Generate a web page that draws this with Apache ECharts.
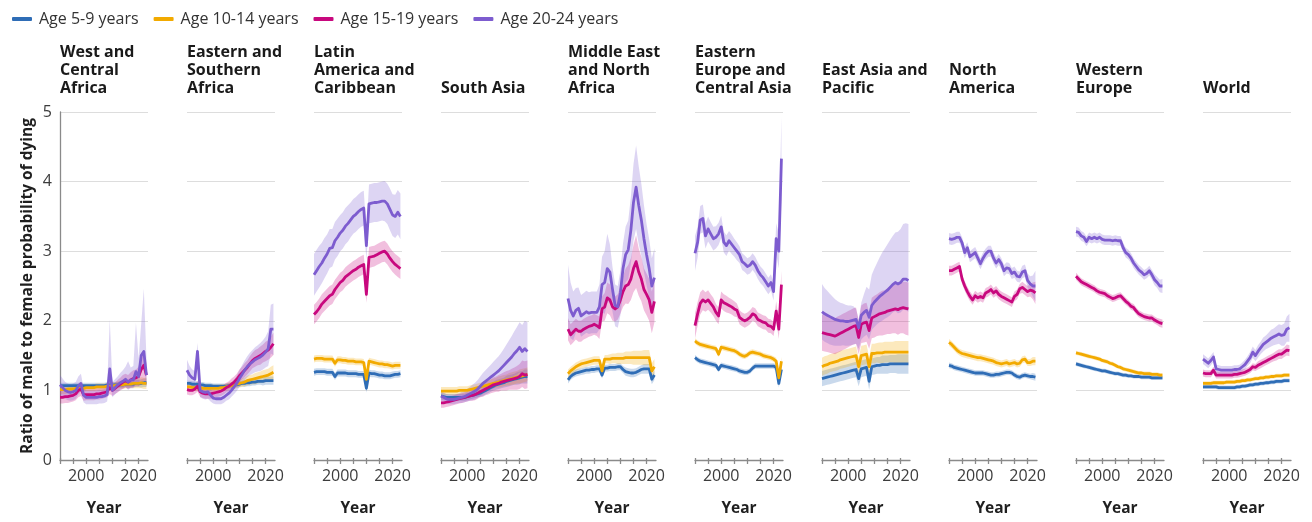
<!DOCTYPE html>
<html>
<head>
<meta charset="utf-8">
<script src="https://cdn.jsdelivr.net/npm/echarts@6/dist/echarts.min.js"></script>
<style>
  html, body { margin: 0; padding: 0; background: #ffffff; }
  #chart { width: 1312px; height: 522px; }
</style>
</head>
<body>
<div id="chart"></div>
<script>
// ---- Shared axes / labels ----
const years = [1990,1991,1992,1993,1994,1995,1996,1997,1998,1999,2000,2001,2002,2003,2004,2005,2006,2007,2008,2009,2010,2011,2012,2013,2014,2015,2016,2017,2018,2019,2020,2021,2022,2023];
const yearTicks = [1990, 1995, 2000, 2005, 2010, 2015, 2020];
const yearLabels = [2000, 2020];
const ageGroups = ['Age 5-9 years', 'Age 10-14 years', 'Age 15-19 years', 'Age 20-24 years'];
const regionTitles = ['West and\nCentral\nAfrica', 'Eastern and\nSouthern\nAfrica', 'Latin\nAmerica and\nCaribbean', 'South Asia', 'Middle East\nand North\nAfrica', 'Eastern\nEurope and\nCentral Asia', 'East Asia and\nPacific', 'North\nAmerica', 'Western\nEurope', 'World'];

// ---- West and Central Africa ----
const wca5 = [1.07,1.07,1.07,1.07,1.07,1.07,1.07,1.07,1.07,1.07,1.07,1.07,1.07,1.07,1.07,1.07,1.07,1.07,1.08,1.08,1.08,1.08,1.08,1.08,1.08,1.09,1.09,1.09,1.09,1.10,1.10,1.10,1.11,1.11];
const wca10 = [1.01,1.01,1.01,1.02,1.02,1.02,1.03,1.03,1.03,1.03,1.04,1.04,1.04,1.04,1.05,1.05,1.05,1.05,1.06,1.06,1.07,1.07,1.08,1.08,1.08,1.09,1.09,1.09,1.10,1.10,1.10,1.11,1.10,1.10];
const wca15 = [0.90,0.90,0.91,0.91,0.92,0.93,0.95,1.00,1.02,0.94,0.94,0.94,0.94,0.94,0.95,0.95,0.96,0.97,0.98,1.04,1.00,1.03,1.06,1.09,1.12,1.14,1.12,1.15,1.17,1.18,1.20,1.30,1.36,1.22];
const wca20 = [1.08,1.04,1.00,0.98,0.97,0.98,1.00,1.06,1.10,0.93,0.90,0.90,0.90,0.90,0.90,0.91,0.91,0.92,0.94,1.31,1.00,1.04,1.08,1.11,1.13,1.16,1.12,1.15,1.15,1.27,1.20,1.50,1.56,1.22];
const wca5Ci = [0.04,0.04,0.04,0.04,0.04,0.04,0.04,0.04,0.04,0.04,0.04,0.04,0.04,0.04,0.04,0.04,0.04,0.04,0.04,0.04,0.04,0.04,0.04,0.04,0.04,0.04,0.05,0.05,0.05,0.05,0.05,0.06,0.06,0.06];
const wca10Ci = [0.06,0.06,0.06,0.06,0.06,0.05,0.05,0.05,0.05,0.05,0.05,0.05,0.05,0.05,0.05,0.05,0.05,0.05,0.05,0.05,0.05,0.05,0.05,0.05,0.06,0.06,0.06,0.06,0.07,0.07,0.07,0.08,0.08,0.08];
const wca15Ci = [0.09,0.09,0.09,0.09,0.09,0.09,0.09,0.10,0.10,0.09,0.08,0.08,0.08,0.08,0.08,0.08,0.08,0.08,0.08,0.09,0.08,0.08,0.09,0.09,0.10,0.10,0.10,0.11,0.12,0.12,0.14,0.22,0.22,0.16];
const wca20Dn = [0.14,0.13,0.12,0.12,0.12,0.12,0.12,0.12,0.12,0.10,0.10,0.10,0.10,0.10,0.10,0.10,0.10,0.10,0.10,0.14,0.10,0.10,0.10,0.10,0.10,0.11,0.11,0.12,0.12,0.14,0.14,0.18,0.20,0.16];
const wca20Up = [0.14,0.13,0.12,0.12,0.12,0.12,0.12,0.14,0.14,0.10,0.10,0.10,0.10,0.10,0.10,0.10,0.10,0.10,0.12,0.71,0.12,0.12,0.12,0.14,0.16,0.18,0.30,0.18,0.20,0.70,0.26,0.45,0.90,0.26];

// ---- Eastern and Southern Africa ----
const esa5 = [1.10,1.10,1.09,1.09,1.09,1.08,1.08,1.07,1.07,1.07,1.06,1.06,1.06,1.06,1.06,1.06,1.07,1.07,1.08,1.08,1.09,1.10,1.10,1.11,1.11,1.12,1.12,1.13,1.13,1.13,1.14,1.14,1.14,1.14];
const esa10 = [1.05,1.05,1.04,1.04,1.04,1.04,1.03,1.03,1.03,1.03,1.03,1.03,1.03,1.04,1.04,1.05,1.06,1.07,1.08,1.09,1.10,1.11,1.12,1.14,1.15,1.16,1.17,1.18,1.19,1.20,1.21,1.22,1.24,1.26];
const esa15 = [1.01,1.00,1.00,1.02,1.06,0.98,0.96,0.95,0.95,0.95,0.96,0.97,0.98,0.99,1.01,1.04,1.06,1.09,1.12,1.16,1.21,1.25,1.29,1.33,1.38,1.43,1.46,1.48,1.50,1.53,1.56,1.58,1.62,1.67];
const esa20 = [1.29,1.22,1.18,1.16,1.56,1.00,0.98,0.97,0.98,0.93,0.89,0.88,0.88,0.88,0.90,0.93,0.96,1.00,1.05,1.10,1.17,1.23,1.29,1.34,1.38,1.41,1.44,1.46,1.48,1.51,1.55,1.60,1.88,1.88];
const esa5Ci = [0.04,0.04,0.04,0.04,0.04,0.04,0.04,0.04,0.04,0.04,0.04,0.04,0.04,0.04,0.04,0.04,0.04,0.04,0.04,0.04,0.04,0.04,0.05,0.05,0.05,0.05,0.05,0.05,0.05,0.06,0.06,0.06,0.06,0.06];
const esa10Ci = [0.05,0.05,0.05,0.05,0.05,0.05,0.05,0.05,0.05,0.05,0.05,0.05,0.05,0.05,0.05,0.05,0.05,0.05,0.06,0.06,0.06,0.06,0.06,0.07,0.07,0.07,0.08,0.08,0.08,0.09,0.09,0.09,0.10,0.10];
const esa15Ci = [0.07,0.07,0.07,0.07,0.08,0.07,0.07,0.07,0.07,0.07,0.07,0.07,0.07,0.07,0.07,0.07,0.07,0.08,0.08,0.08,0.09,0.09,0.10,0.10,0.11,0.11,0.12,0.12,0.13,0.13,0.14,0.14,0.15,0.16];
const esa20Ci = [0.15,0.13,0.12,0.12,0.12,0.10,0.10,0.10,0.10,0.09,0.08,0.08,0.08,0.08,0.08,0.08,0.09,0.09,0.10,0.11,0.12,0.13,0.14,0.15,0.16,0.17,0.18,0.19,0.20,0.21,0.22,0.25,0.35,0.37];

// ---- Latin America and Caribbean ----
const lac5 = [1.26,1.27,1.27,1.27,1.27,1.26,1.26,1.26,1.20,1.25,1.25,1.25,1.25,1.24,1.24,1.24,1.24,1.23,1.23,1.23,1.03,1.25,1.24,1.24,1.23,1.22,1.22,1.21,1.21,1.21,1.22,1.23,1.23,1.24];
const lac10 = [1.45,1.46,1.46,1.46,1.45,1.45,1.45,1.45,1.39,1.44,1.44,1.43,1.43,1.42,1.42,1.42,1.41,1.41,1.41,1.40,1.16,1.42,1.41,1.40,1.39,1.38,1.38,1.37,1.37,1.36,1.35,1.36,1.36,1.36];
const lac15 = [2.09,2.13,2.18,2.24,2.28,2.32,2.36,2.38,2.45,2.50,2.55,2.58,2.63,2.66,2.69,2.72,2.74,2.77,2.79,2.81,2.38,2.91,2.92,2.93,2.95,2.97,2.99,3.00,2.96,2.90,2.85,2.81,2.78,2.75];
const lac20 = [2.66,2.72,2.78,2.83,2.90,2.96,3.04,3.05,3.15,3.20,3.26,3.30,3.36,3.40,3.45,3.50,3.53,3.57,3.60,3.62,3.08,3.68,3.69,3.70,3.70,3.71,3.72,3.72,3.68,3.60,3.52,3.50,3.56,3.50];
const lac5Ci = [0.05,0.05,0.05,0.05,0.05,0.05,0.05,0.05,0.05,0.05,0.05,0.05,0.05,0.05,0.05,0.05,0.05,0.05,0.05,0.05,0.06,0.05,0.05,0.05,0.05,0.05,0.05,0.05,0.05,0.05,0.05,0.05,0.05,0.05];
const lac10Ci = [0.05,0.05,0.05,0.05,0.05,0.05,0.05,0.05,0.05,0.05,0.05,0.05,0.05,0.05,0.05,0.05,0.05,0.05,0.05,0.05,0.06,0.05,0.05,0.05,0.05,0.05,0.05,0.05,0.05,0.05,0.05,0.05,0.05,0.05];
const lac15Ci = [0.14,0.14,0.14,0.14,0.14,0.14,0.14,0.14,0.14,0.14,0.14,0.14,0.14,0.14,0.14,0.14,0.14,0.14,0.14,0.14,0.12,0.15,0.15,0.15,0.15,0.15,0.15,0.15,0.15,0.15,0.15,0.15,0.15,0.15];
const lac20Ci = [0.30,0.30,0.30,0.29,0.29,0.28,0.28,0.27,0.27,0.27,0.26,0.26,0.26,0.26,0.25,0.25,0.25,0.25,0.25,0.25,0.20,0.28,0.28,0.28,0.28,0.28,0.28,0.29,0.29,0.30,0.30,0.31,0.32,0.33];

// ---- South Asia ----
const sa5 = [0.92,0.91,0.90,0.90,0.90,0.90,0.90,0.90,0.90,0.90,0.91,0.92,0.93,0.94,0.95,0.96,0.98,1.00,1.02,1.04,1.06,1.08,1.09,1.10,1.11,1.13,1.14,1.15,1.16,1.17,1.18,1.19,1.20,1.20];
const sa10 = [0.99,0.99,0.99,0.99,0.99,0.99,0.99,1.00,1.00,1.00,1.00,1.01,1.02,1.03,1.04,1.05,1.06,1.07,1.08,1.09,1.10,1.11,1.12,1.13,1.14,1.15,1.16,1.17,1.18,1.19,1.20,1.21,1.22,1.23];
const sa15 = [0.82,0.82,0.83,0.84,0.85,0.86,0.87,0.88,0.89,0.90,0.91,0.92,0.93,0.94,0.96,0.98,1.00,1.02,1.04,1.06,1.08,1.09,1.10,1.12,1.13,1.14,1.15,1.16,1.17,1.18,1.20,1.24,1.22,1.23];
const sa20 = [0.92,0.90,0.88,0.87,0.87,0.87,0.88,0.89,0.90,0.91,0.93,0.95,0.97,0.99,1.02,1.06,1.10,1.13,1.16,1.19,1.22,1.25,1.28,1.32,1.36,1.40,1.44,1.48,1.53,1.57,1.62,1.56,1.60,1.56];
const sa5Ci = [0.05,0.05,0.05,0.05,0.05,0.05,0.05,0.05,0.05,0.05,0.05,0.05,0.05,0.05,0.05,0.05,0.06,0.06,0.06,0.06,0.06,0.07,0.07,0.07,0.07,0.08,0.08,0.08,0.08,0.09,0.09,0.09,0.10,0.10];
const sa10Ci = [0.06,0.06,0.06,0.06,0.06,0.06,0.06,0.06,0.06,0.06,0.06,0.06,0.06,0.06,0.06,0.06,0.06,0.07,0.07,0.07,0.07,0.07,0.08,0.08,0.08,0.08,0.09,0.09,0.09,0.09,0.10,0.10,0.10,0.10];
const sa15Ci = [0.07,0.07,0.07,0.07,0.07,0.07,0.07,0.07,0.07,0.07,0.07,0.07,0.08,0.08,0.08,0.08,0.09,0.09,0.10,0.10,0.11,0.11,0.12,0.12,0.13,0.14,0.14,0.15,0.16,0.17,0.18,0.19,0.20,0.20];
const sa20Ci = [0.07,0.07,0.07,0.07,0.07,0.07,0.07,0.07,0.08,0.08,0.09,0.10,0.11,0.12,0.13,0.14,0.15,0.16,0.17,0.18,0.19,0.20,0.21,0.22,0.24,0.26,0.28,0.30,0.32,0.34,0.36,0.38,0.40,0.42];

// ---- Middle East and North Africa ----
const mena5 = [1.15,1.20,1.23,1.25,1.26,1.27,1.28,1.29,1.29,1.30,1.30,1.31,1.31,1.22,1.32,1.32,1.33,1.33,1.33,1.34,1.34,1.30,1.27,1.26,1.25,1.25,1.26,1.28,1.30,1.31,1.31,1.31,1.16,1.22];
const mena10 = [1.24,1.28,1.31,1.34,1.36,1.38,1.39,1.40,1.41,1.42,1.43,1.43,1.43,1.28,1.45,1.45,1.45,1.46,1.46,1.46,1.46,1.46,1.47,1.47,1.47,1.47,1.47,1.47,1.47,1.47,1.47,1.47,1.28,1.34];
const mena15 = [1.88,1.80,1.84,1.88,1.85,1.85,1.88,1.90,1.92,1.93,1.95,1.93,1.90,2.17,2.20,2.33,2.30,2.20,2.17,2.20,2.30,2.42,2.50,2.52,2.60,2.75,2.85,2.70,2.60,2.45,2.38,2.30,2.12,2.28];
const mena20 = [2.32,2.15,2.07,2.15,2.18,2.07,2.10,2.13,2.11,2.12,2.12,2.12,2.20,2.52,2.55,2.75,2.70,2.45,2.22,2.20,2.40,2.75,2.95,3.02,3.30,3.70,3.92,3.66,3.45,3.18,2.95,2.75,2.50,2.62];
const mena5Ci = [0.05,0.05,0.05,0.05,0.05,0.05,0.05,0.05,0.05,0.05,0.05,0.05,0.05,0.05,0.05,0.05,0.05,0.05,0.05,0.05,0.05,0.05,0.06,0.06,0.06,0.06,0.06,0.06,0.06,0.07,0.07,0.07,0.07,0.07];
const mena10Ci = [0.06,0.06,0.06,0.06,0.06,0.06,0.06,0.06,0.06,0.06,0.06,0.06,0.06,0.06,0.06,0.06,0.07,0.07,0.07,0.08,0.08,0.08,0.09,0.09,0.09,0.10,0.10,0.10,0.10,0.11,0.11,0.11,0.11,0.11];
const mena15Ci = [0.16,0.15,0.15,0.15,0.15,0.15,0.15,0.15,0.15,0.15,0.15,0.15,0.16,0.18,0.20,0.22,0.22,0.20,0.18,0.18,0.20,0.22,0.25,0.28,0.30,0.34,0.38,0.34,0.32,0.30,0.30,0.30,0.30,0.30];
const mena20Ci = [0.48,0.40,0.35,0.32,0.30,0.30,0.30,0.30,0.30,0.30,0.30,0.30,0.32,0.40,0.45,0.50,0.40,0.32,0.30,0.30,0.32,0.36,0.40,0.42,0.48,0.55,0.60,0.56,0.52,0.48,0.44,0.42,0.40,0.42];

// ---- Eastern Europe and Central Asia ----
const eeca5 = [1.47,1.44,1.42,1.41,1.40,1.39,1.38,1.37,1.36,1.30,1.36,1.35,1.34,1.33,1.32,1.31,1.30,1.28,1.27,1.26,1.26,1.28,1.32,1.35,1.35,1.35,1.35,1.35,1.35,1.35,1.35,1.33,1.10,1.30];
const eeca10 = [1.71,1.68,1.66,1.65,1.64,1.63,1.62,1.61,1.60,1.52,1.62,1.61,1.60,1.59,1.58,1.57,1.55,1.52,1.50,1.49,1.51,1.54,1.55,1.54,1.53,1.52,1.50,1.49,1.48,1.47,1.45,1.42,1.18,1.42];
const eeca15 = [1.93,2.10,2.25,2.30,2.27,2.30,2.25,2.20,2.12,2.07,2.30,2.26,2.24,2.22,2.20,2.17,2.15,2.05,2.02,2.00,2.02,2.05,2.10,2.08,2.02,2.00,1.98,1.97,1.93,1.92,1.88,2.14,1.88,2.52];
const eeca20 = [2.97,3.13,3.45,3.47,3.22,3.32,3.25,3.18,3.20,3.25,3.35,3.13,3.08,3.15,3.10,3.05,3.00,2.95,2.85,2.82,2.78,2.80,2.85,2.80,2.72,2.66,2.62,2.56,2.50,2.55,2.42,3.18,3.00,4.33];
const eeca5Ci = [0.04,0.04,0.04,0.04,0.04,0.04,0.04,0.04,0.04,0.04,0.04,0.04,0.04,0.04,0.04,0.04,0.04,0.04,0.04,0.04,0.04,0.04,0.04,0.04,0.04,0.04,0.04,0.04,0.04,0.04,0.04,0.05,0.06,0.06];
const eeca10Ci = [0.04,0.04,0.04,0.04,0.04,0.04,0.04,0.04,0.04,0.04,0.04,0.04,0.04,0.04,0.04,0.04,0.04,0.04,0.04,0.04,0.04,0.04,0.04,0.04,0.04,0.04,0.04,0.04,0.04,0.04,0.04,0.05,0.06,0.06];
const eeca15Ci = [0.18,0.17,0.16,0.15,0.14,0.14,0.13,0.13,0.12,0.12,0.12,0.12,0.12,0.11,0.11,0.11,0.10,0.10,0.10,0.10,0.10,0.10,0.10,0.10,0.10,0.10,0.10,0.10,0.10,0.10,0.10,0.14,0.14,0.20];
const eeca20Ci = [0.25,0.22,0.20,0.20,0.18,0.18,0.17,0.17,0.16,0.16,0.16,0.15,0.15,0.14,0.14,0.13,0.13,0.12,0.12,0.12,0.12,0.12,0.12,0.12,0.12,0.12,0.12,0.12,0.12,0.12,0.13,0.22,0.25,0.60];

// ---- East Asia and Pacific ----
const eap5 = [1.17,1.18,1.19,1.20,1.21,1.22,1.23,1.24,1.25,1.26,1.27,1.28,1.29,1.30,1.17,1.31,1.32,1.33,1.13,1.34,1.35,1.36,1.36,1.37,1.37,1.37,1.38,1.38,1.38,1.38,1.38,1.38,1.38,1.38];
const eap10 = [1.34,1.36,1.37,1.39,1.40,1.41,1.42,1.44,1.45,1.46,1.47,1.48,1.49,1.50,1.34,1.50,1.51,1.52,1.34,1.53,1.53,1.54,1.54,1.54,1.55,1.55,1.55,1.55,1.55,1.55,1.55,1.55,1.55,1.55];
const eap15 = [1.83,1.82,1.81,1.80,1.79,1.78,1.80,1.82,1.84,1.86,1.88,1.90,1.92,1.93,1.76,1.95,1.97,1.98,1.86,2.04,2.06,2.08,2.10,2.11,2.12,2.14,2.15,2.16,2.17,2.16,2.18,2.19,2.18,2.17];
const eap20 = [2.13,2.10,2.08,2.06,2.04,2.02,2.01,2.00,2.00,1.99,1.99,2.00,2.01,2.02,1.90,2.08,2.12,2.15,2.05,2.22,2.27,2.31,2.35,2.38,2.41,2.44,2.48,2.52,2.55,2.53,2.55,2.60,2.60,2.58];
const eap5Ci = [0.11,0.11,0.11,0.11,0.11,0.11,0.11,0.11,0.11,0.11,0.11,0.11,0.11,0.11,0.11,0.12,0.12,0.12,0.12,0.12,0.12,0.12,0.12,0.13,0.13,0.13,0.13,0.13,0.13,0.14,0.14,0.14,0.14,0.14];
const eap10Ci = [0.13,0.13,0.13,0.13,0.13,0.13,0.13,0.13,0.13,0.13,0.13,0.13,0.13,0.13,0.13,0.14,0.14,0.14,0.14,0.14,0.14,0.14,0.15,0.15,0.15,0.15,0.15,0.15,0.16,0.16,0.16,0.16,0.16,0.16];
const eap15Ci = [0.26,0.26,0.26,0.26,0.26,0.26,0.26,0.26,0.26,0.26,0.26,0.26,0.26,0.26,0.24,0.27,0.28,0.28,0.26,0.29,0.30,0.30,0.31,0.32,0.32,0.33,0.34,0.34,0.35,0.36,0.36,0.37,0.38,0.38];
const eap20Dn = [0.40,0.40,0.40,0.40,0.39,0.38,0.37,0.36,0.35,0.35,0.35,0.35,0.35,0.35,0.30,0.35,0.35,0.35,0.32,0.35,0.36,0.36,0.37,0.38,0.38,0.39,0.40,0.40,0.41,0.42,0.43,0.44,0.45,0.45];
const eap20Up = [0.40,0.37,0.35,0.33,0.31,0.29,0.27,0.26,0.25,0.24,0.23,0.22,0.20,0.15,0.12,0.18,0.26,0.34,0.40,0.44,0.48,0.52,0.56,0.60,0.63,0.66,0.68,0.70,0.72,0.75,0.77,0.79,0.80,0.81];

// ---- North America ----
const na5 = [1.36,1.35,1.33,1.32,1.31,1.30,1.29,1.28,1.27,1.26,1.25,1.25,1.25,1.25,1.24,1.23,1.22,1.22,1.23,1.23,1.24,1.25,1.26,1.26,1.25,1.22,1.20,1.19,1.21,1.22,1.21,1.20,1.20,1.19];
const na10 = [1.69,1.66,1.62,1.58,1.55,1.53,1.52,1.51,1.50,1.49,1.48,1.47,1.47,1.46,1.45,1.44,1.43,1.42,1.40,1.39,1.38,1.39,1.40,1.38,1.39,1.40,1.38,1.39,1.44,1.45,1.40,1.40,1.42,1.42];
const na15 = [2.72,2.72,2.74,2.76,2.78,2.60,2.50,2.42,2.35,2.30,2.36,2.33,2.35,2.33,2.40,2.42,2.45,2.40,2.43,2.38,2.35,2.33,2.31,2.29,2.27,2.35,2.38,2.46,2.48,2.45,2.42,2.44,2.43,2.40];
const na20 = [3.18,3.17,3.18,3.20,3.20,3.12,2.98,3.05,2.92,2.95,2.98,2.90,2.82,2.90,2.96,3.00,3.00,2.90,2.83,2.88,2.82,2.72,2.76,2.75,2.68,2.70,2.64,2.63,2.70,2.72,2.58,2.53,2.50,2.50];
const na5Ci = [0.04,0.04,0.04,0.04,0.04,0.04,0.04,0.04,0.04,0.04,0.04,0.04,0.04,0.04,0.04,0.04,0.04,0.04,0.04,0.04,0.04,0.04,0.04,0.04,0.04,0.04,0.04,0.04,0.04,0.04,0.04,0.04,0.05,0.05];
const na10Ci = [0.05,0.05,0.05,0.05,0.05,0.05,0.05,0.05,0.05,0.05,0.05,0.05,0.05,0.05,0.05,0.05,0.05,0.05,0.05,0.05,0.05,0.05,0.05,0.05,0.05,0.05,0.05,0.05,0.05,0.05,0.05,0.05,0.06,0.06];
const na15Ci = [0.07,0.07,0.07,0.07,0.07,0.07,0.07,0.07,0.07,0.07,0.07,0.07,0.07,0.07,0.07,0.07,0.07,0.07,0.07,0.07,0.07,0.07,0.07,0.07,0.07,0.07,0.07,0.07,0.08,0.08,0.08,0.09,0.12,0.16];
const na20Ci = [0.08,0.08,0.08,0.08,0.08,0.08,0.08,0.08,0.08,0.08,0.08,0.08,0.08,0.08,0.08,0.08,0.08,0.08,0.08,0.08,0.08,0.08,0.08,0.08,0.08,0.08,0.08,0.08,0.09,0.09,0.10,0.11,0.15,0.22];

// ---- Western Europe ----
const we5 = [1.38,1.37,1.36,1.35,1.34,1.33,1.32,1.31,1.30,1.29,1.28,1.28,1.27,1.26,1.25,1.24,1.24,1.23,1.22,1.22,1.21,1.21,1.20,1.20,1.20,1.19,1.19,1.19,1.19,1.18,1.18,1.18,1.18,1.18];
const we10 = [1.54,1.53,1.52,1.51,1.50,1.49,1.48,1.47,1.46,1.45,1.43,1.42,1.41,1.39,1.38,1.36,1.34,1.33,1.31,1.30,1.29,1.28,1.27,1.26,1.25,1.25,1.24,1.24,1.24,1.23,1.23,1.23,1.22,1.22];
const we15 = [2.64,2.60,2.56,2.54,2.52,2.50,2.48,2.46,2.43,2.41,2.40,2.39,2.36,2.34,2.32,2.33,2.35,2.36,2.32,2.28,2.25,2.21,2.19,2.14,2.10,2.08,2.06,2.05,2.04,2.04,2.01,1.99,1.97,1.96];
const we20 = [3.28,3.27,3.22,3.20,3.14,3.20,3.18,3.20,3.18,3.20,3.17,3.16,3.16,3.16,3.15,3.16,3.15,3.15,3.05,2.98,2.95,2.90,2.83,2.78,2.73,2.70,2.66,2.68,2.72,2.66,2.59,2.55,2.50,2.50];
const we5Ci = [0.03,0.03,0.03,0.03,0.03,0.03,0.03,0.03,0.03,0.03,0.03,0.03,0.03,0.03,0.03,0.03,0.03,0.03,0.03,0.03,0.03,0.03,0.03,0.03,0.03,0.03,0.03,0.03,0.03,0.03,0.03,0.03,0.03,0.03];
const we10Ci = [0.03,0.03,0.03,0.03,0.03,0.03,0.03,0.03,0.03,0.03,0.03,0.03,0.03,0.03,0.03,0.03,0.03,0.03,0.03,0.03,0.03,0.03,0.03,0.03,0.03,0.03,0.03,0.03,0.03,0.03,0.03,0.03,0.03,0.03];
const we15Ci = [0.05,0.05,0.05,0.05,0.05,0.05,0.05,0.05,0.05,0.05,0.05,0.05,0.05,0.05,0.05,0.05,0.05,0.05,0.05,0.05,0.05,0.05,0.05,0.05,0.05,0.05,0.05,0.05,0.05,0.05,0.05,0.05,0.06,0.06];
const we20Ci = [0.07,0.07,0.07,0.07,0.07,0.07,0.07,0.07,0.07,0.07,0.07,0.07,0.07,0.07,0.07,0.07,0.07,0.07,0.07,0.07,0.07,0.07,0.07,0.07,0.07,0.07,0.07,0.07,0.07,0.07,0.08,0.08,0.09,0.10];

// ---- World ----
const wld5 = [1.05,1.05,1.05,1.05,1.05,1.05,1.04,1.04,1.04,1.04,1.04,1.04,1.04,1.05,1.05,1.06,1.06,1.07,1.08,1.08,1.09,1.09,1.10,1.10,1.11,1.11,1.12,1.12,1.13,1.13,1.13,1.14,1.14,1.14];
const wld10 = [1.10,1.10,1.10,1.10,1.11,1.11,1.11,1.11,1.11,1.12,1.12,1.12,1.12,1.13,1.13,1.14,1.14,1.15,1.15,1.16,1.17,1.17,1.18,1.18,1.19,1.19,1.20,1.20,1.21,1.21,1.21,1.22,1.22,1.22];
const wld15 = [1.25,1.24,1.24,1.24,1.29,1.22,1.22,1.22,1.22,1.22,1.22,1.22,1.23,1.23,1.24,1.25,1.26,1.28,1.30,1.34,1.33,1.36,1.38,1.40,1.42,1.44,1.46,1.48,1.50,1.52,1.52,1.55,1.58,1.57];
const wld20 = [1.45,1.42,1.39,1.43,1.48,1.31,1.30,1.29,1.29,1.29,1.29,1.29,1.30,1.30,1.31,1.34,1.37,1.42,1.47,1.55,1.50,1.56,1.61,1.66,1.69,1.72,1.75,1.77,1.79,1.81,1.79,1.80,1.88,1.90];
const wld5Ci = [0.03,0.03,0.03,0.03,0.03,0.03,0.03,0.03,0.03,0.03,0.03,0.03,0.03,0.03,0.03,0.03,0.03,0.03,0.03,0.03,0.03,0.03,0.03,0.03,0.03,0.03,0.03,0.03,0.03,0.03,0.03,0.03,0.03,0.03];
const wld10Ci = [0.03,0.03,0.03,0.03,0.03,0.03,0.03,0.03,0.03,0.03,0.03,0.03,0.03,0.03,0.03,0.03,0.03,0.03,0.03,0.03,0.03,0.03,0.03,0.03,0.03,0.03,0.03,0.03,0.03,0.03,0.03,0.03,0.03,0.03];
const wld15Ci = [0.05,0.05,0.05,0.05,0.05,0.05,0.05,0.05,0.05,0.05,0.05,0.05,0.05,0.05,0.05,0.05,0.05,0.05,0.05,0.05,0.05,0.06,0.06,0.06,0.06,0.06,0.06,0.06,0.07,0.07,0.07,0.07,0.08,0.08];
const wld20Ci = [0.07,0.07,0.07,0.07,0.07,0.06,0.06,0.06,0.06,0.06,0.06,0.06,0.06,0.06,0.06,0.06,0.07,0.07,0.08,0.08,0.08,0.09,0.09,0.10,0.10,0.11,0.12,0.12,0.13,0.14,0.15,0.16,0.18,0.20];

// Per region, per age group: [mean, lower width, upper width]
const regionSeries = [
  [[wca5, wca5Ci, wca5Ci], [wca10, wca10Ci, wca10Ci], [wca15, wca15Ci, wca15Ci], [wca20, wca20Dn, wca20Up]],
  [[esa5, esa5Ci, esa5Ci], [esa10, esa10Ci, esa10Ci], [esa15, esa15Ci, esa15Ci], [esa20, esa20Ci, esa20Ci]],
  [[lac5, lac5Ci, lac5Ci], [lac10, lac10Ci, lac10Ci], [lac15, lac15Ci, lac15Ci], [lac20, lac20Ci, lac20Ci]],
  [[sa5, sa5Ci, sa5Ci], [sa10, sa10Ci, sa10Ci], [sa15, sa15Ci, sa15Ci], [sa20, sa20Ci, sa20Ci]],
  [[mena5, mena5Ci, mena5Ci], [mena10, mena10Ci, mena10Ci], [mena15, mena15Ci, mena15Ci], [mena20, mena20Ci, mena20Ci]],
  [[eeca5, eeca5Ci, eeca5Ci], [eeca10, eeca10Ci, eeca10Ci], [eeca15, eeca15Ci, eeca15Ci], [eeca20, eeca20Ci, eeca20Ci]],
  [[eap5, eap5Ci, eap5Ci], [eap10, eap10Ci, eap10Ci], [eap15, eap15Ci, eap15Ci], [eap20, eap20Dn, eap20Up]],
  [[na5, na5Ci, na5Ci], [na10, na10Ci, na10Ci], [na15, na15Ci, na15Ci], [na20, na20Ci, na20Ci]],
  [[we5, we5Ci, we5Ci], [we10, we10Ci, we10Ci], [we15, we15Ci, we15Ci], [we20, we20Ci, we20Ci]],
  [[wld5, wld5Ci, wld5Ci], [wld10, wld10Ci, wld10Ci], [wld15, wld15Ci, wld15Ci], [wld20, wld20Ci, wld20Ci]]
];

// ---- Styling ----
const ageColors = ['#2f6db6', '#f2aa00', '#c8087e', '#7d5ccf'];
const FONT = '"Open Sans", "Noto Sans", "DejaVu Sans", sans-serif';
const PANEL_LEFT = 60, PANEL_STEP = 127, PANEL_W = 88, PLOT_TOP = 112, PLOT_H = 352;
const X_MIN = 1990, X_MAX = 2023.6;
const AXIS_GREY = '#8a8a8a';
const nPanels = regionSeries.length;

const grids = [], xAxes = [], yAxes = [], series = [], titles = [];

regionSeries.forEach((ages, r) => {
  const left = PANEL_LEFT + r * PANEL_STEP;
  grids.push({ left: left, top: PLOT_TOP, width: PANEL_W, height: PLOT_H, containLabel: false });

  xAxes.push({
    type: 'value', gridIndex: r, min: X_MIN, max: X_MAX,
    name: 'Year', nameLocation: 'middle', nameGap: 41,
    nameTextStyle: { fontFamily: FONT, fontSize: 15.5, fontWeight: 'bold', color: '#1f1f1f' },
    axisLine: { show: true, lineStyle: { color: AXIS_GREY, width: 1.3 } },
    axisTick: { show: false },
    axisLabel: { show: true, customValues: yearLabels, formatter: v => String(v), fontFamily: FONT, fontSize: 16, color: '#3c3c3c', margin: 8 },
    splitLine: { show: false }
  });

  const first = r === 0;
  yAxes.push({
    type: 'value', gridIndex: r, min: 0, max: 5, interval: 1,
    name: first ? 'Ratio of male to female probability of dying' : '',
    nameLocation: 'middle', nameGap: 24, nameRotate: 90,
    nameTextStyle: { fontFamily: FONT, fontSize: 15.5, fontWeight: 'bold', color: '#1f1f1f' },
    axisLine: { show: first, lineStyle: { color: AXIS_GREY, width: 1.3 } },
    axisTick: { show: false },
    axisLabel: { show: first, fontFamily: FONT, fontSize: 16, color: '#3c3c3c', margin: 8 },
    splitLine: { show: true, lineStyle: { color: '#dddddd', width: 1.2 } }
  });

  const nLines = regionTitles[r].split('\n').length;
  titles.push({
    text: regionTitles[r], left: left, top: 97 - 18 * nLines, padding: 0,
    textStyle: { fontFamily: FONT, fontSize: 16, fontWeight: 'bold', color: '#1a1a1a', lineHeight: 18 }
  });

  // Uncertainty bands, drawn as one polygon per age group
  ages.forEach(([mean, dn, up], a) => {
    series.push({
      type: 'custom', xAxisIndex: r, yAxisIndex: r, silent: true, z: 1,
      data: [[years[0], mean[0]]],
      renderItem: function (params, api) {
        const pts = [];
        for (let i = 0; i < years.length; i++) pts.push(api.coord([years[i], mean[i] + up[i]]));
        for (let i = years.length - 1; i >= 0; i--) pts.push(api.coord([years[i], mean[i] - dn[i]]));
        return { type: 'polygon', shape: { points: pts }, style: { fill: echarts.color.modifyAlpha(ageColors[a], 0.26) } };
      }
    });
  });

  // Central estimates
  ages.forEach(([mean], a) => {
    series.push({
      type: 'line', name: ageGroups[a], xAxisIndex: r, yAxisIndex: r,
      data: years.map((y, i) => [y, mean[i]]),
      showSymbol: false, symbol: 'none', silent: true, z: 2 + a,
      lineStyle: { width: 2.8, color: ageColors[a], join: 'round' },
      itemStyle: { color: ageColors[a] }
    });
  });
});

// Tick-only axes: same scale as the data axes but ending at the last 5-year tick,
// so the 5-year tick marks stop at 2020 with no mark at the end of the axis.
const lastTick = yearTicks[yearTicks.length - 1];
regionSeries.forEach((ages, r) => {
  const left = PANEL_LEFT + r * PANEL_STEP;
  const tickSpan = PANEL_W * (lastTick - X_MIN) / (X_MAX - X_MIN);
  grids.push({ left: left, top: PLOT_TOP, width: tickSpan, height: PLOT_H, containLabel: false });
  xAxes.push({
    type: 'value', gridIndex: nPanels + r, min: X_MIN, max: lastTick, interval: 5,
    axisLine: { show: false }, axisLabel: { show: false }, splitLine: { show: false },
    axisTick: { show: true, inside: true, length: 6, lineStyle: { color: AXIS_GREY, width: 1.3 } }
  });
  yAxes.push({ type: 'value', gridIndex: nPanels + r, min: 0, max: 5, show: false });
});

const chart = echarts.init(document.getElementById('chart'), null, { renderer: 'canvas' });
chart.setOption({
  animation: false,
  backgroundColor: '#ffffff',
  title: titles,
  legend: {
    left: 7, top: 6, itemWidth: 20, itemHeight: 4, itemGap: 15, icon: 'roundRect',
    selectedMode: false,
    data: ageGroups.map((n, i) => ({ name: n, itemStyle: { color: ageColors[i] } })),
    textStyle: { fontFamily: FONT, fontSize: 16, color: '#333333', padding: [0, 0, 0, 2] }
  },
  grid: grids,
  xAxis: xAxes,
  yAxis: yAxes,
  series: series
});
</script>
</body>
</html>
